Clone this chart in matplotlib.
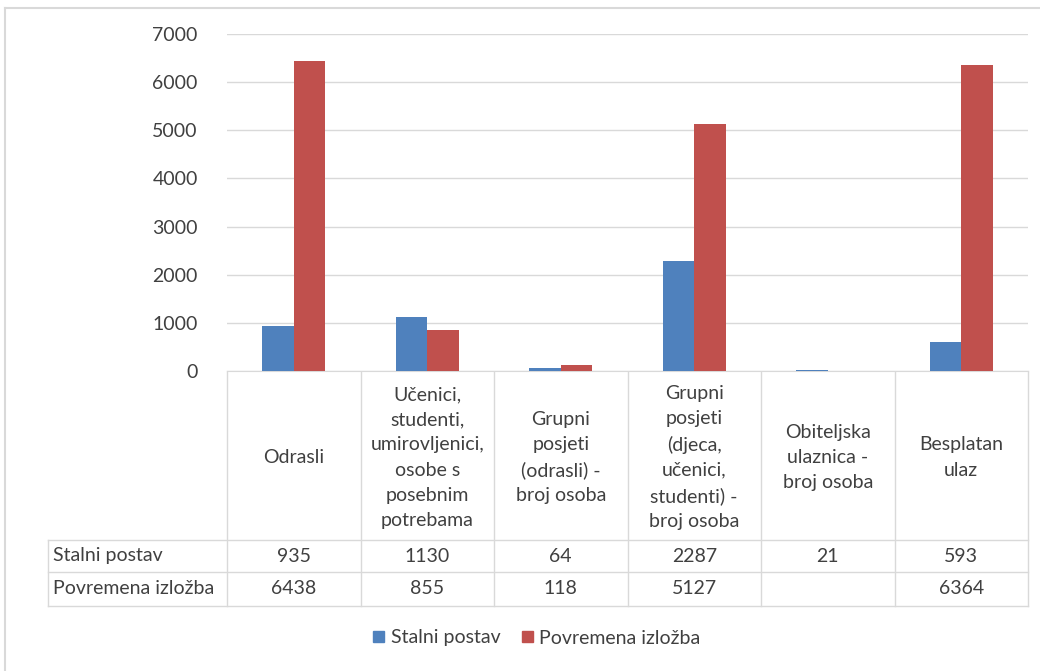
import matplotlib.pyplot as plt
from matplotlib.patches import Patch

categories = ["Odrasli",
              "Učenici,\nstudenti,\numirovljenici,\nosobe s\nposebnim\npotrebama",
              "Grupni\nposjeti\n(odrasli) -\nbroj osoba",
              "Grupni\nposjeti\n(djeca,\nučenici,\nstudenti) -\nbroj osoba",
              "Obiteljska\nulaznica -\nbroj osoba",
              "Besplatan\nulaz"]
stalni = [935, 1130, 64, 2287, 21, 593]
povremena = [6438, 855, 118, 5127, None, 6364]
series_names = ["Stalni postav", "Povremena izložba"]
colors = ["#4F81BD", "#C0504D"]
yticks = [0, 1000, 2000, 3000, 4000, 5000, 6000, 7000]

W, H = 1040, 671
plt.rcParams['font.family'] = ['Lato', 'DejaVu Sans']
fig = plt.figure(figsize=(W / 100, H / 100), dpi=100)
fs = 14

# pixel layout
x0, x1 = 227, 1028
y_top, y_zero = 34, 371
row1, row2, row3 = 540, 572, 606
tab_left = 48

ax = fig.add_axes([x0 / W, 1 - y_zero / H, (x1 - x0) / W, (y_zero - y_top) / H])
n = len(categories)
bw = 0.236
xs = list(range(n))
ax.bar([x - bw / 2 for x in xs], stalni, width=bw, color=colors[0], zorder=3)
ax.bar([x + bw / 2 for i, x in enumerate(xs) if povremena[i] is not None],
       [v for v in povremena if v is not None], width=bw, color=colors[1], zorder=3)
ax.set_xlim(-0.5, n - 0.5)
ax.set_ylim(0, 7000)
ax.set_yticks(yticks)
ax.set_yticklabels([str(t) for t in yticks], fontsize=fs, color="#404040")
ax.tick_params(axis="y", length=0, pad=21)
ax.set_xticks([])
ax.grid(axis="y", color="#D9D9D9", linewidth=1, zorder=0)
for s in ["top", "right", "left"]:
    ax.spines[s].set_visible(False)
ax.spines["bottom"].set_color("#D9D9D9")

# overlay in pixel coordinates for the data table
ov = fig.add_axes([0, 0, 1, 1], zorder=-1)
ov.set_xlim(0, W)
ov.set_ylim(H, 0)
ov.axis("off")
lc = "#D9D9D9"
colw = (x1 - x0) / n
bounds = [x0 + i * colw for i in range(n + 1)]
for b in bounds:
    ov.plot([b, b], [y_zero, row3], color=lc, lw=1)
ov.plot([tab_left, tab_left], [row1, row3], color=lc, lw=1)
for r in [row1, row2, row3]:
    ov.plot([tab_left, x1], [r, r], color=lc, lw=1)

tc = "#404040"
for i, cat in enumerate(categories):
    cx = (bounds[i] + bounds[i + 1]) / 2
    ov.text(cx, (y_zero + row1) / 2 + 2, cat, ha="center", va="center",
            fontsize=fs, color=tc, linespacing=1.58)
    ov.text(cx, (row1 + row2) / 2, str(stalni[i]), ha="center", va="center",
            fontsize=fs, color=tc)
    if povremena[i] is not None:
        ov.text(cx, (row2 + row3) / 2, str(povremena[i]), ha="center", va="center",
                fontsize=fs, color=tc)
ov.text(tab_left + 5, (row1 + row2) / 2, series_names[0], ha="left", va="center",
        fontsize=fs, color=tc)
ov.text(tab_left + 5, (row2 + row3) / 2, series_names[1], ha="left", va="center",
        fontsize=fs, color=tc)

# outer chart border
ov.plot([5, 5], [8, H], color="#D9D9D9", lw=1.5)
ov.plot([5, W], [8, 8], color="#D9D9D9", lw=1.5)

handles = [Patch(color=c, label=l) for c, l in zip(colors, series_names)]
fig.legend(handles=handles, loc="center", bbox_to_anchor=(537 / W, 1 - 638 / H),
           ncol=2, frameon=False, fontsize=fs, handlelength=0.55, handleheight=0.55,
           handletextpad=0.35, columnspacing=1.1, labelcolor=tc)

fig.savefig("out.png", dpi=100)
